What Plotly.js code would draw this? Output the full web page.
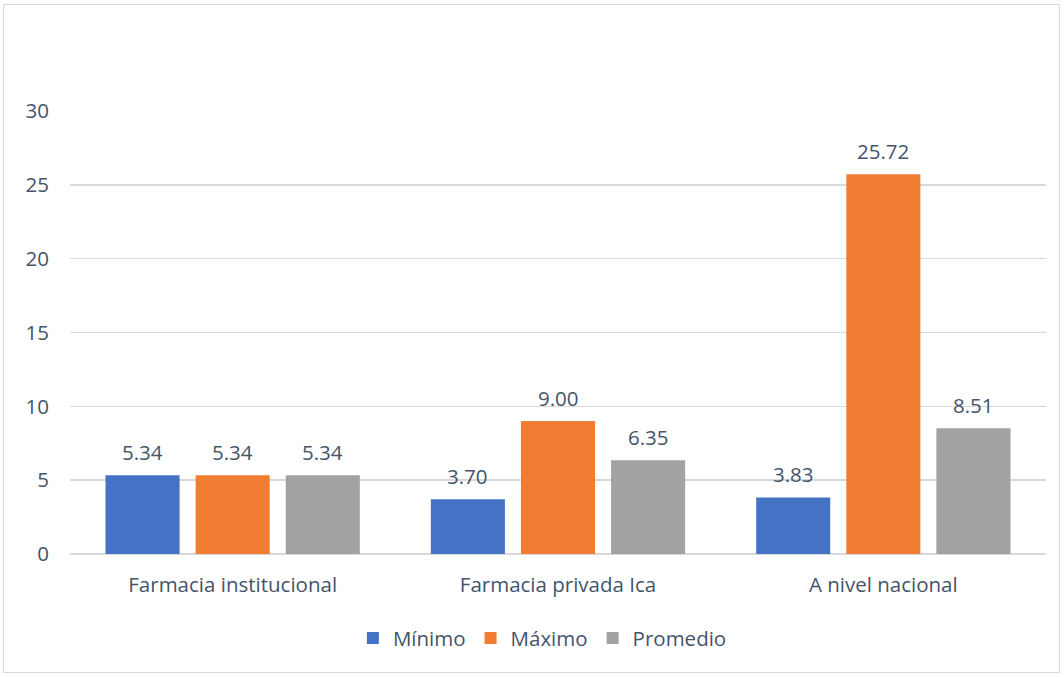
<!DOCTYPE html>
<html>
<head>
<meta charset="utf-8">
<script src="https://cdn.plot.ly/plotly-3.0.1.min.js"></script>
<style>
  html, body { margin: 0; padding: 0; background: #ffffff; }
  #wrap { position: relative; width: 1064px; height: 677px; }
  #chart { position: absolute; left: 0; top: 0; width: 1064px; height: 677px; }
  #frame { position: absolute; left: 3px; top: 4px; width: 1055px; height: 667px;
           border: 1.5px solid #d9d9d9; pointer-events: none; }
</style>
</head>
<body>
<div id="wrap">
  <div id="chart"></div>
  <div id="frame"></div>
</div>
<script>
const categories = ["Farmacia institucional", "Farmacia privada Ica", "A nivel nacional"];
const seriesNames = ["Mínimo", "Máximo", "Promedio"];
const minimo = [5.34, 3.70, 3.83];
const maximo = [5.34, 9.00, 25.72];
const promedio = [5.34, 6.35, 8.51];
const yTicks = [0, 5, 10, 15, 20, 25, 30];

const seriesValues = [minimo, maximo, promedio];
const colors = ["#4472C4", "#F07D32", "#A2A2A2"];
const textColor = "#44546A";
const fontFam = "'Open Sans', sans-serif";
const fs = 20.5;

const traces = seriesValues.map((vals, j) => ({
  type: "bar",
  name: seriesNames[j],
  x: categories,
  y: vals,
  marker: { color: colors[j], line: { width: 0 } },
  hoverinfo: "skip"
}));

const bargap = 0.169;
const slot = (1 - bargap) / 3;
const annotations = [];
seriesValues.forEach((vals, j) => {
  vals.forEach((v, i) => {
    annotations.push({
      x: i + (j - 1) * slot,
      y: v,
      xref: "x", yref: "y",
      text: v.toFixed(2),
      showarrow: false,
      yanchor: "bottom",
      yshift: 7,
      font: { family: fontFam, size: fs, color: textColor }
    });
  });
});

const layout = {
  width: 1064,
  height: 677,
  margin: { l: 70, r: 18, t: 111, b: 123 },
  paper_bgcolor: "#ffffff",
  plot_bgcolor: "#ffffff",
  barmode: "group",
  bargap: bargap,
  bargroupgap: 0.178,
  font: { family: fontFam, size: fs, color: textColor },
  xaxis: {
    type: "category",
    tickfont: { family: fontFam, size: fs, color: textColor },
    ticks: "",
    showgrid: false,
    showline: false,
    zeroline: false,
    ticklabelstandoff: 16,
    fixedrange: true
  },
  yaxis: {
    range: [0, 30],
    tickvals: yTicks,
    ticktext: yTicks.map(String),
    tickfont: { family: fontFam, size: fs, color: textColor },
    ticks: "",
    showgrid: true,
    gridcolor: "#d9d9d9",
    gridwidth: 1.5,
    zeroline: true,
    zerolinecolor: "#d9d9d9",
    zerolinewidth: 1.5,
    showline: false,
    ticklabelstandoff: 20,
    fixedrange: true
  },
  legend: {
    orientation: "h",
    x: 0.484,
    xanchor: "center",
    y: -0.19,
    yanchor: "middle",
    font: { family: fontFam, size: fs, color: textColor },
    itemwidth: 30,
    traceorder: "normal"
  },
  annotations: annotations,
  showlegend: true
};

Plotly.newPlot("chart", traces, layout, { displayModeBar: false, staticPlot: true });
</script>
</body>
</html>
